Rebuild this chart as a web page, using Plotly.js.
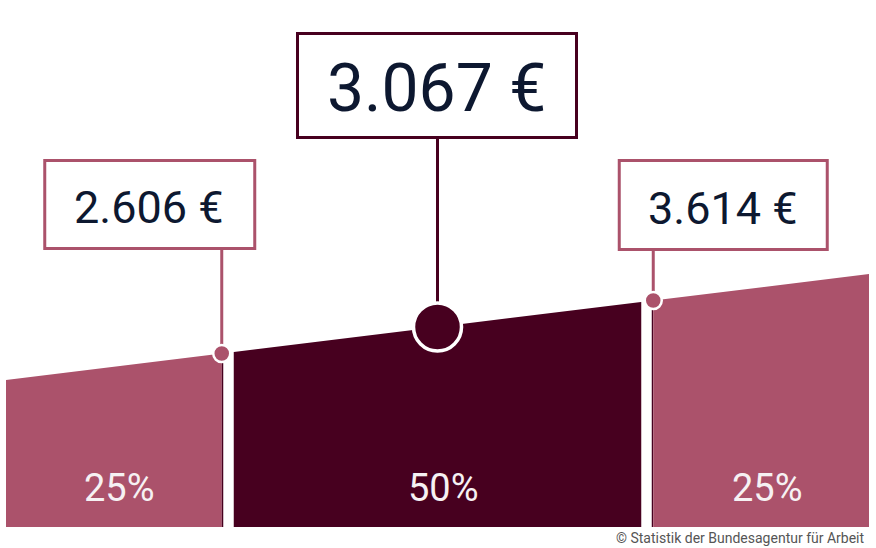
<!DOCTYPE html>
<html>
<head>
<meta charset="utf-8">
<script src="https://cdn.plot.ly/plotly-3.0.1.min.js"></script>
<style>
  html, body { margin: 0; padding: 0; background: #fff; }
  #chart { width: 876px; height: 548px; }
</style>
</head>
<body>
<div id="chart"></div>
<script>
// percentile positions along the distribution and the band height at each
const percentiles = [0, 25, 50, 75, 100];
const levels = [147, 173.5, 200, 226.5, 253];
// quartile values in euro (Q1, median, Q3)
const quartileValues = [2606, 3067, 3614];
// share of employees in each band
const shares = [25, 50, 25];
const source = "© Statistik der Bundesagentur für Arbeit";

const PINK = "#ab526b";
const DARK = "#47001f";
const TEXT = "#0d1830";

function euro(v) {
  return String(v).replace(/\B(?=(\d{3})+(?!\d))/g, ".") + " €";
}

// band i goes from quartile index [start, end]
const bands = [[0, 1], [1, 3], [3, 4]];
const bandColors = [PINK, DARK, PINK];

const traces = bands.map(([a, b], i) => {
  const xs = percentiles.slice(a, b + 1);
  const ys = levels.slice(a, b + 1);
  return {
    type: "scatter",
    mode: "lines",
    x: [xs[0], ...xs, xs[xs.length - 1]],
    y: [0, ...ys, 0],
    fill: "toself",
    fillcolor: bandColors[i],
    line: { width: 0, color: bandColors[i] },
    hoverinfo: "skip",
  };
});

// quartile markers: index into percentiles, styling (box offsets in pixels)
const markers = [
  { idx: 1, color: PINK, r: 8.5, ring: 2.5, size: 45, w: 210, h: 88, boxY: 322.5, shift: -72, gap: [1.5, 12] },
  { idx: 2, color: DARK, r: 24, ring: 3.5, size: 66, w: 279, h: 104, boxY: 441.5, shift: -0.5 },
  { idx: 3, color: PINK, r: 8.5, ring: 2.5, size: 45, w: 208, h: 89, boxY: 322, shift: 70, gap: [-12, -1.5] },
];

const shapes = [];
markers.forEach((m) => {
  if (m.gap) {
    shapes.push({
      type: "rect", layer: "above", xref: "x", yref: "y",
      xsizemode: "pixel", xanchor: percentiles[m.idx], x0: m.gap[0], x1: m.gap[1],
      y0: -5, y1: levels[m.idx] + 30,
      fillcolor: "#ffffff", line: { width: 0 },
    });
  }
});
markers.forEach((m) => {
  shapes.push({
    type: "line", layer: "above", xref: "x", yref: "y",
    x0: percentiles[m.idx], x1: percentiles[m.idx],
    y0: levels[m.idx], y1: m.boxY - m.h / 2,
    line: { color: m.color, width: 3 },
  });
});
markers.forEach((m) => {
  shapes.push({
    type: "circle", layer: "above", xref: "x", yref: "y",
    xsizemode: "pixel", ysizemode: "pixel",
    xanchor: percentiles[m.idx], yanchor: levels[m.idx],
    x0: -m.r, x1: m.r, y0: -m.r, y1: m.r,
    fillcolor: m.color, line: { color: "#ffffff", width: m.ring },
  });
});
markers.forEach((m) => {
  shapes.push({
    type: "rect", layer: "above", xref: "x", yref: "y",
    xsizemode: "pixel", xanchor: percentiles[m.idx],
    x0: m.shift - m.w / 2, x1: m.shift + m.w / 2,
    y0: m.boxY - m.h / 2, y1: m.boxY + m.h / 2,
    fillcolor: "#ffffff", line: { color: m.color, width: 3 },
  });
});

const annotations = markers.map((m, i) => ({
  xref: "x", yref: "y",
  x: percentiles[m.idx], y: m.boxY, xshift: m.shift - 1, yshift: -3,
  xanchor: "center", yanchor: "middle",
  text: euro(quartileValues[i]),
  showarrow: false,
  font: { family: "Roboto", size: m.size, color: TEXT },
}));

bands.forEach(([a, b], i) => {
  annotations.push({
    xref: "x", yref: "y",
    x: (percentiles[a] + percentiles[b]) / 2, y: 39, xshift: 6,
    text: shares[i] + "%", showarrow: false,
    font: { family: "Roboto", size: 38, color: "#f6f1f3" },
  });
});

annotations.push({
  xref: "paper", yref: "paper", x: 1, y: -0.021, xshift: -2,
  xanchor: "right", yanchor: "middle",
  text: source, showarrow: false,
  font: { family: "Roboto", size: 14, color: "#555555" },
});

Plotly.newPlot(
  "chart",
  traces,
  {
    width: 876,
    height: 548,
    margin: { l: 6, r: 7, t: 0, b: 21 },
    paper_bgcolor: "#ffffff",
    plot_bgcolor: "#ffffff",
    showlegend: false,
    xaxis: { range: [0, 100], visible: false, fixedrange: true },
    yaxis: { range: [0, 527], visible: false, fixedrange: true },
    shapes: shapes,
    annotations: annotations,
  },
  { displayModeBar: false, staticPlot: true }
);
</script>
</body>
</html>
